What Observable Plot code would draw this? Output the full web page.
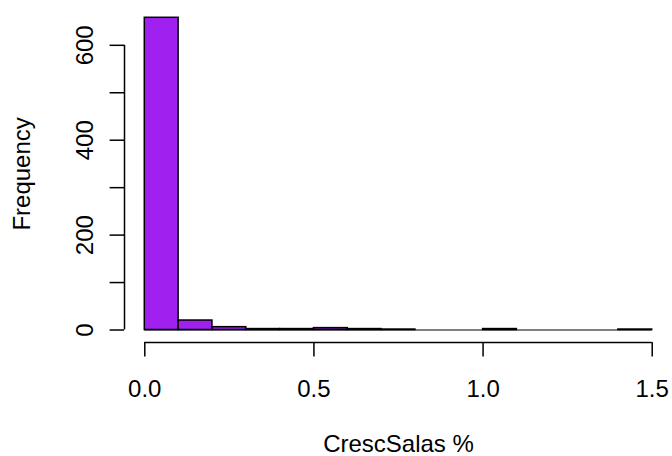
<!DOCTYPE html>
<html>
<head>
<meta charset="utf-8">
<script src="https://cdn.jsdelivr.net/npm/d3@7"></script>
<script src="https://cdn.jsdelivr.net/npm/@observablehq/plot@0.6"></script>
<style>
  html, body { margin: 0; padding: 0; background: #fff; }
</style>
</head>
<body>
<div id="chart"></div>
<script>
// Histogram bins (lower / upper edges) and frequencies
const binLower = [0.0, 0.1, 0.2, 0.3, 0.4, 0.5, 0.6, 0.7, 0.8, 0.9, 1.0, 1.1, 1.2, 1.3, 1.4];
const binUpper = [0.1, 0.2, 0.3, 0.4, 0.5, 0.6, 0.7, 0.8, 0.9, 1.0, 1.1, 1.2, 1.3, 1.4, 1.5];
const counts   = [658, 20, 6, 2, 2, 4, 2, 1, 0, 0, 2, 0, 0, 0, 1];

// Axis ticks and labels
const xTicks = [0.0, 0.5, 1.0, 1.5];
const xTickLabels = ["0.0", "0.5", "1.0", "1.5"];
const yTicks = [0, 100, 200, 300, 400, 500, 600];
const yTickLabels = ["0", "", "200", "", "400", "", "600"];
const xLabel = "CrescSalas %";
const yLabel = "Frequency";

const bins = binLower.map((lo, i) => ({x1: lo, x2: binUpper[i], count: counts[i]}));

const xMin = d3.min(binLower), xMax = d3.max(binUpper);
const xPad = 0.04 * (xMax - xMin);
const yMax = d3.max(counts);
const yPad = 0.04 * yMax;

const chart = Plot.plot({
  width: 672,
  height: 456,
  marginLeft: 124,
  marginRight: 0,
  marginTop: 4.8,
  marginBottom: 114,
  style: {fontFamily: "'Liberation Sans', Arial, sans-serif", fontSize: "24px", color: "#000", background: "#fff"},
  x: {domain: [xMin - xPad, xMax + xPad]},
  y: {domain: [-yPad, yMax + yPad]},
  marks: [
    Plot.ruleY([0], {x1: xMin, x2: xMax, stroke: "#000", strokeWidth: 1}),
    Plot.rect(bins.filter(d => d.count > 0), {
      x1: "x1", x2: "x2", y1: 0, y2: "count",
      fill: "#A020F0", stroke: "#000", strokeWidth: 1.5, inset: 0
    }),
    Plot.ruleY([-yPad], {x1: xMin, x2: xMax, stroke: "#000", strokeWidth: 1.5}),
    Plot.ruleX([xMin - xPad], {y1: d3.min(yTicks), y2: d3.max(yTicks), stroke: "#000", strokeWidth: 1.5}),
    Plot.axisX({
      ticks: xTicks,
      tickFormat: d => xTickLabels[xTicks.indexOf(d)],
      tickSize: 14.4, tickPadding: 23, strokeWidth: 1.5,
      fontSize: 24,
      label: xLabel, labelAnchor: "center", labelOffset: 109, labelArrow: "none"
    }),
    Plot.axisY({
      ticks: yTicks,
      tickFormat: d => yTickLabels[yTicks.indexOf(d)],
      tickRotate: -90, tickSize: 14.4, tickPadding: 16.7, strokeWidth: 1.5,
      fontSize: 24,
      label: yLabel, labelAnchor: "center", labelOffset: 112, labelArrow: "none"
    })
  ]
});
document.getElementById("chart").appendChild(chart);
</script>
</body>
</html>
